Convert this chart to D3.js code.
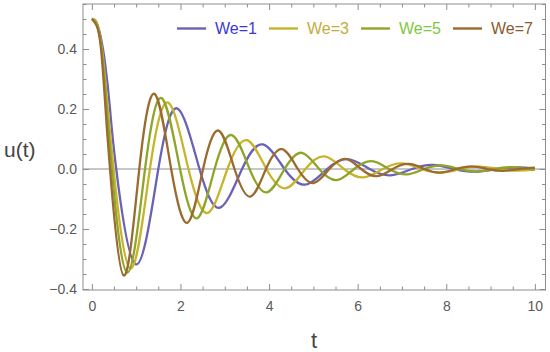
<!DOCTYPE html>
<html>
<head>
<meta charset="utf-8">
<script src="https://cdn.jsdelivr.net/npm/d3@7"></script>
<style>
  html, body { margin: 0; padding: 0; background: #fff; }
  svg { display: block; font-family: "Liberation Sans", Arial, sans-serif; }
</style>
</head>
<body>
<svg id="chart" width="550" height="352"></svg>
<script>
// ---- data ----
const seriesNames = ["We=1", "We=3", "We=5", "We=7"];

const t1 = [0, 0.1, 0.2, 0.3, 0.41, 0.55, 1.0, 1.5, 1.94, 2.43, 2.89, 3.39, 3.86, 4.35, 4.82, 5.31, 5.78, 6.27, 6.74, 7.23, 7.7, 8.19, 8.66, 9.15, 9.62, 10.0];
const u1 = [0.5, 0.49, 0.44, 0.35, 0.2, 0, -0.318, 0, 0.201, 0, -0.129, 0, 0.082, 0, -0.052, 0, 0.033, 0, -0.021, 0, 0.0134, 0, -0.0085, 0, 0.0054, 0.0015];

const t3 = [0, 0.1, 0.2, 0.3, 0.49, 0.88, 1.31, 1.73, 2.18, 2.62, 3.06, 3.5, 3.94, 4.38, 4.82, 5.25, 5.69, 6.13, 6.57, 7.0, 7.44, 7.88, 8.32, 8.75, 9.19, 9.63, 10.0];
const u3 = [0.5, 0.49, 0.43, 0.30, 0, -0.332, 0, 0.221, 0, -0.146, 0, 0.096, 0, -0.064, 0, 0.042, 0, -0.028, 0, 0.0186, 0, -0.0123, 0, 0.0082, 0, -0.0054, -0.0015];

const t5 = [0, 0.1, 0.2, 0.3, 0.45, 0.8, 1.2, 1.58, 1.99, 2.38, 2.77, 3.16, 3.56, 3.95, 4.35, 4.74, 5.13, 5.53, 5.92, 6.32, 6.71, 7.11, 7.5, 7.9, 8.29, 8.69, 9.08, 9.48, 9.87, 10.0];
const u5 = [0.5, 0.485, 0.42, 0.27, 0, -0.345, 0, 0.236, 0, -0.164, 0, 0.113, 0, -0.078, 0, 0.054, 0, -0.037, 0, 0.026, 0, -0.018, 0, 0.012, 0, -0.0084, 0, 0.0058, 0, -0.0018];

const t7 = [0, 0.1, 0.2, 0.3, 0.41, 0.72, 1.07, 1.42, 1.79, 2.16, 2.51, 2.86, 3.22, 3.58, 3.93, 4.29, 4.65, 5.0, 5.36, 5.72, 6.08, 6.43, 6.79, 7.15, 7.51, 7.86, 8.22, 8.58, 8.94, 9.29, 9.65, 10.0];
const u7 = [0.5, 0.48, 0.41, 0.22, 0, -0.355, 0, 0.25, 0, -0.179, 0, 0.128, 0, -0.092, 0, 0.066, 0, -0.047, 0, 0.034, 0, -0.024, 0, 0.017, 0, -0.012, 0, 0.009, 0, -0.006, 0, 0.0045];

const xMajorTicks = [0, 2, 4, 6, 8, 10];
const yMajorTicks = [-0.4, -0.2, 0.0, 0.2, 0.4];
const yTickLabels = ["\u22120.4", "\u22120.2", "0.0", "0.2", "0.4"];

// ---- styles ----
const lineColors = ["#6a62b4", "#c8b42c", "#8fa42a", "#9a6a2e"];
const textColors = ["#3a3ad2", "#c2ae3a", "#7ec840", "#8b5a30"];

const svg = d3.select("#chart");
const L = 83, R = 545.5, T = 4, B = 290;

const x = d3.scaleLinear().domain([-0.2, 10.24]).range([L, R]);
const y = d3.scaleLinear().domain([-0.4033, 0.55]).range([B, T]);

const frameColor = "#8e8e8e";
const labelColor = "#5a5a5a";

// clip
svg.append("defs").append("clipPath").attr("id", "clip")
  .append("rect").attr("x", L).attr("y", T).attr("width", R - L).attr("height", B - T);

// zero line
svg.append("line")
  .attr("x1", L).attr("x2", R).attr("y1", y(0)).attr("y2", y(0))
  .attr("stroke", frameColor).attr("stroke-width", 1);

// curves
const series = [
  {t: t1, u: u1}, {t: t3, u: u3}, {t: t5, u: u5}, {t: t7, u: u7}
];
const line = d3.line().x(d => x(d[0])).y(d => y(d[1])).curve(d3.curveNatural);
const gc = svg.append("g").attr("clip-path", "url(#clip)");
series.forEach((s, i) => {
  const pts = s.t.map((tv, k) => [tv, s.u[k]]);
  gc.append("path").datum(pts)
    .attr("d", line)
    .attr("fill", "none")
    .attr("stroke", lineColors[i])
    .attr("stroke-width", 2.3)
    .attr("stroke-linejoin", "round");
});

// frame
svg.append("rect")
  .attr("x", L).attr("y", T).attr("width", R - L).attr("height", B - T)
  .attr("fill", "none").attr("stroke", frameColor).attr("stroke-width", 1);

// ticks via axes (inward)
const xMinor = d3.range(0, 10.01, 0.5).filter(v => !xMajorTicks.includes(v));
const yMinor = d3.range(-0.4, 0.551, 0.05).map(v => +v.toFixed(2)).filter(v => !yMajorTicks.some(m => Math.abs(m - v) < 1e-6));

function styleAxis(g) {
  g.select(".domain").remove();
  g.selectAll(".tick line").attr("stroke", frameColor);
}

// bottom
svg.append("g").attr("transform", `translate(0,${B})`)
  .call(d3.axisBottom(x).tickValues(xMajorTicks).tickSize(-6).tickPadding(11).tickFormat(d3.format("d")))
  .call(styleAxis)
  .call(g => g.selectAll("text").attr("fill", labelColor).attr("font-size", 14).attr("font-family", "Liberation Sans, Arial, sans-serif"));
svg.append("g").attr("transform", `translate(0,${B})`)
  .call(d3.axisBottom(x).tickValues(xMinor).tickSize(-3.5).tickFormat(""))
  .call(styleAxis);
// top
svg.append("g").attr("transform", `translate(0,${T})`)
  .call(d3.axisTop(x).tickValues(xMajorTicks).tickSize(-6).tickFormat(""))
  .call(styleAxis);
svg.append("g").attr("transform", `translate(0,${T})`)
  .call(d3.axisTop(x).tickValues(xMinor).tickSize(-3.5).tickFormat(""))
  .call(styleAxis);
// left
svg.append("g").attr("transform", `translate(${L},0)`)
  .call(d3.axisLeft(y).tickValues(yMajorTicks).tickSize(-6).tickPadding(6)
    .tickFormat((d, i) => yTickLabels[i]))
  .call(styleAxis)
  .call(g => g.selectAll("text").attr("fill", labelColor).attr("font-size", 14).attr("font-family", "Liberation Sans, Arial, sans-serif"));
svg.append("g").attr("transform", `translate(${L},0)`)
  .call(d3.axisLeft(y).tickValues(yMinor).tickSize(-3.5).tickFormat(""))
  .call(styleAxis);
// right
svg.append("g").attr("transform", `translate(${R},0)`)
  .call(d3.axisRight(y).tickValues(yMajorTicks).tickSize(-6).tickFormat(""))
  .call(styleAxis);
svg.append("g").attr("transform", `translate(${R},0)`)
  .call(d3.axisRight(y).tickValues(yMinor).tickSize(-3.5).tickFormat(""))
  .call(styleAxis);

// axis titles
svg.append("text").attr("x", 4).attr("y", 157)
  .attr("font-size", 21).attr("fill", "#444").text("u(t)");
svg.append("text").attr("x", 314).attr("y", 348).attr("text-anchor", "middle")
  .attr("font-size", 22).attr("fill", "#444").text("t");

// legend
const legX0 = 177, legStep = 92, legY = 28.5;
seriesNames.forEach((name, i) => {
  const gx = legX0 + i * legStep;
  svg.append("line").attr("x1", gx).attr("x2", gx + 29).attr("y1", legY).attr("y2", legY)
    .attr("stroke", lineColors[i]).attr("stroke-width", 2.4);
  svg.append("text").attr("x", gx + 38).attr("y", legY + 5.5)
    .attr("font-size", 16).attr("fill", textColors[i]).text(name);
});
</script>
</body>
</html>
